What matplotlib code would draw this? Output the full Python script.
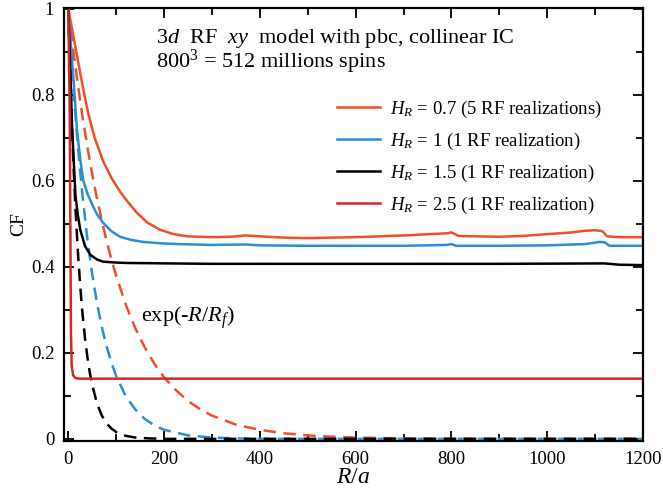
import numpy as np
import matplotlib
matplotlib.use('Agg')
import matplotlib.pyplot as plt
from matplotlib.ticker import MultipleLocator

plt.rcParams['font.family'] = 'Liberation Serif'
plt.rcParams['mathtext.fontset'] = 'custom'
plt.rcParams['mathtext.rm'] = 'Liberation Serif'
plt.rcParams['mathtext.it'] = 'Liberation Serif:italic'

# correlation function CF(R)
R_07 = [0, 10, 20, 30, 42, 55, 73, 90, 108, 125, 143, 165, 192, 220, 248, 296, 340, 370, 400, 450, 500,
        600, 700, 790, 800, 815, 850, 900, 950, 1000, 1050, 1080, 1100, 1115, 1125, 1150, 1200]
CF_07 = [1.0, 0.94, 0.88, 0.82, 0.755, 0.70, 0.645, 0.607, 0.575, 0.55, 0.526, 0.503, 0.486, 0.476, 0.471,
         0.469, 0.470, 0.473, 0.471, 0.468, 0.467, 0.469, 0.473, 0.478, 0.480, 0.472, 0.471, 0.470, 0.472,
         0.476, 0.480, 0.484, 0.485, 0.483, 0.471, 0.469, 0.469]

R_1 = [0, 5, 10, 18, 25, 31, 40, 52, 60, 73, 90, 108, 130, 156, 190, 227, 296, 370, 400, 500, 600, 700,
       790, 800, 810, 900, 1000, 1080, 1110, 1120, 1130, 1200]
CF_1 = [1.0, 0.92, 0.85, 0.72, 0.65, 0.602, 0.57, 0.54, 0.522, 0.502, 0.483, 0.47, 0.463, 0.458, 0.455,
        0.453, 0.451, 0.452, 0.450, 0.449, 0.449, 0.449, 0.451, 0.453, 0.449, 0.449, 0.450, 0.453, 0.458,
        0.457, 0.449, 0.449]

R_15 = [0, 4, 8, 12, 15, 20, 25, 35, 46, 60, 73, 100, 123, 300, 600, 900, 1120, 1150, 1200]
CF_15 = [1.0, 0.86, 0.72, 0.63, 0.565, 0.52, 0.486, 0.448, 0.428, 0.417, 0.412, 0.41, 0.409, 0.407,
         0.407, 0.407, 0.408, 0.405, 0.404]

R_25 = [0, 3, 4.5, 5.5, 7, 10, 15, 25, 1200]
CF_25 = [1.0, 0.75, 0.45, 0.25, 0.17, 0.148, 0.141, 0.14, 0.14]

# exp(-R/R_f) fits
Rf_07 = [0, 10, 20, 30, 40, 50, 60, 70, 80, 90, 100, 120, 140, 160, 180, 200, 225, 250, 275, 300, 350,
         400, 450, 500, 550, 600, 700, 800, 1200]
Ef_07 = [1.0, 0.907, 0.823, 0.747, 0.678, 0.615, 0.558, 0.507, 0.46, 0.417, 0.379, 0.312, 0.257, 0.212,
         0.174, 0.143, 0.113, 0.088, 0.069, 0.054, 0.033, 0.021, 0.013, 0.008, 0.005, 0.003, 0.001, 0.0, 0.0]

Rf_1 = [0, 5, 10, 15, 20, 25, 30, 40, 50, 60, 70, 80, 90, 100, 120, 140, 160, 180, 200, 250, 300, 350,
        400, 1200]
Ef_1 = [1.0, 0.908, 0.825, 0.749, 0.681, 0.618, 0.562, 0.463, 0.382, 0.315, 0.26, 0.215, 0.177, 0.146,
        0.099, 0.068, 0.046, 0.031, 0.021, 0.008, 0.003, 0.001, 0.0, 0.0]

Rf_15 = [0, 3, 6, 9, 12, 15, 20, 25, 30, 35, 40, 45, 50, 60, 70, 80, 90, 100, 120, 140, 170, 200, 1200]
Ef_15 = [1.0, 0.882, 0.779, 0.687, 0.607, 0.535, 0.435, 0.353, 0.287, 0.233, 0.189, 0.153, 0.125, 0.082,
         0.054, 0.036, 0.024, 0.016, 0.007, 0.003, 0.001, 0.0, 0.0]

labels = [r'$H_R$ = 0.7 (5 RF realizations)', r'$H_R$ = 1 (1 RF realization)',
          r'$H_R$ = 1.5 (1 RF realization)', r'$H_R$ = 2.5 (1 RF realization)']

c_07 = '#f04f28'
c_1 = '#2c8dd6'
c_15 = '#000000'
c_25 = '#d3272d'

fig = plt.figure(figsize=(6.63, 4.98), dpi=100)
ax = fig.add_axes([64/663, 1-441/498, 579/663, 433/498])

lw = 1.8
dash = (0, (5, 3))
ax.plot(Rf_07, Ef_07, color=c_07, lw=lw, ls=dash)
ax.plot(Rf_1, Ef_1, color=c_1, lw=lw, ls=dash)
ax.plot(Rf_15, Ef_15, color=c_15, lw=lw, ls=dash)

l1, = ax.plot(R_07, CF_07, color=c_07, lw=lw)
l2, = ax.plot(R_1, CF_1, color=c_1, lw=lw)
l3, = ax.plot(R_15, CF_15, color=c_15, lw=lw)
l4, = ax.plot(R_25, CF_25, color=c_25, lw=lw)

ax.set_xlim(-9, 1200)
ax.set_ylim(-0.005, 1.002)

ax.xaxis.set_major_locator(MultipleLocator(200))
ax.xaxis.set_minor_locator(MultipleLocator(100))
ax.yaxis.set_minor_locator(MultipleLocator(0.1))
ax.set_yticks([0, 0.2, 0.4, 0.6, 0.8, 1.0])
ax.set_yticklabels(['0', '0.2', '0.4', '0.6', '0.8', '1'])

ax.tick_params(which='both', direction='in', top=True, right=True, width=1.3, labelsize=13.5)
ax.tick_params(which='major', length=7, pad=7)
ax.tick_params(which='minor', length=5)
for s in ax.spines.values():
    s.set_linewidth(1.6)

ax.set_xlabel(r'$R/a$', fontsize=17)
ax.set_ylabel('CF', fontsize=14)
ax.xaxis.set_label_coords(0.5, -0.06)
ax.yaxis.set_label_coords(-0.064, 0.5)

ax.text(0.159, 0.919, r'$\mathit{3d}$  RF  $\mathit{xy}$  model with pbc, collinear IC',
        transform=ax.transAxes, fontsize=16, va='baseline')
ax.text(0.159, 0.861, r'800$^3$ = 512 millions spins',
        transform=ax.transAxes, fontsize=16, va='baseline')
ax.text(0.133, 0.275, r'exp(-$R/R_f$)', transform=ax.transAxes, fontsize=16, va='baseline')

ax.legend([l1, l2, l3, l4], labels, loc='upper left', bbox_to_anchor=(0.4715, 0.79),
          frameon=False, fontsize=13.5, handlelength=2.3, handletextpad=0.55,
          labelspacing=0.58, borderpad=0, borderaxespad=0)

plt.savefig('out.png', dpi=100)
